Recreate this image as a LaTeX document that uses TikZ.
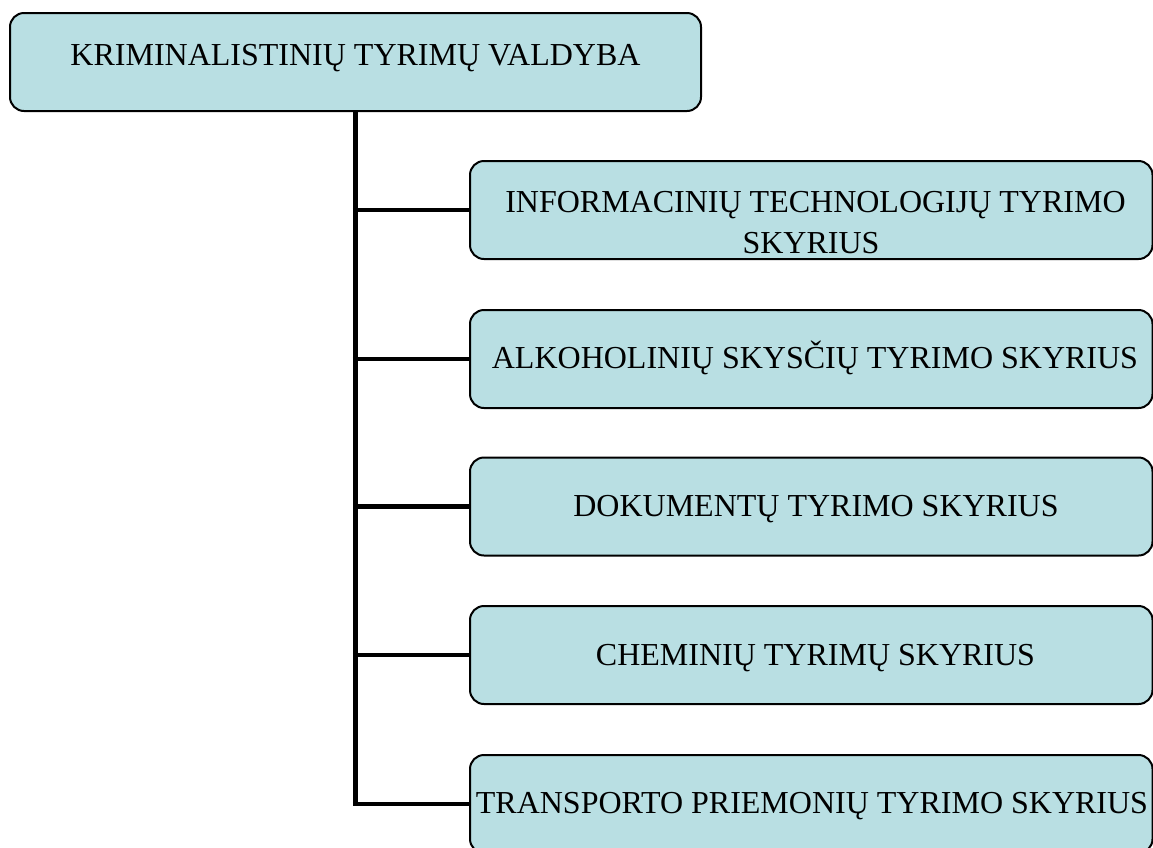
\documentclass[tikz,border=0pt]{standalone}
\usepackage{fontspec}
\setmainfont{Liberation Serif}
\definecolor{boxfill}{RGB}{185,223,227}
\tikzset{
  orgbox/.style={draw=black, line width=2pt, fill=boxfill, rounded corners=14pt,
    rectangle, inner sep=0pt, minimum height=98pt},
  lbl/.style={anchor=base, inner sep=0pt, font=\fontsize{32pt}{41pt}\selectfont, text=black},
  trunk/.style={line width=5.5pt, black},
  branch/.style={line width=4.5pt, black}
}
\begin{document}
\begin{tikzpicture}[x=1pt,y=-1pt]
\useasboundingbox (0,0) rectangle (1153,847);
\clip (0,0) rectangle (1153,847);
% boxes
\node[orgbox, minimum width=691pt] (top) at (355.5,62) {};
\node[orgbox, minimum width=682.5pt] (b1) at (811.25,210) {};
\node[orgbox, minimum width=682.5pt] (b2) at (811.25,359) {};
\node[orgbox, minimum width=682.5pt] (b3) at (811.25,506.5) {};
\node[orgbox, minimum width=682.5pt] (b4) at (811.25,655) {};
\node[orgbox, minimum width=682.5pt] (b5) at (811.25,804) {};
% texts
\node[lbl] (t0) at (355.5,65) {KRIMINALISTINIŲ TYRIMŲ VALDYBA};
\node[lbl] (t1a) at (815.5,212) {INFORMACINIŲ TECHNOLOGIJŲ TYRIMO};
\node[lbl] (t1b) at (811,253) {SKYRIUS};
\node[lbl] (t2) at (815,368) {ALKOHOLINIŲ SKYSČIŲ TYRIMO SKYRIUS};
\node[lbl] (t3) at (816,516) {DOKUMENTŲ TYRIMO SKYRIUS};
\node[lbl] (t4) at (815.5,665) {CHEMINIŲ TYRIMŲ SKYRIUS};
\node[lbl] (t5) at (812,813) {TRANSPORTO PRIEMONIŲ TYRIMO SKYRIUS};
% connectors
\coordinate (bend) at ([yshift=-2.25pt]top.south |- b5.west);
\draw[trunk] (top.south) -- (bend);
\foreach \b in {b1,b2,b3,b4,b5}{
  \draw[branch] ([xshift=-2.75pt]top.south |- \b.west) -- (\b.west);
}
\end{tikzpicture}
\end{document}
